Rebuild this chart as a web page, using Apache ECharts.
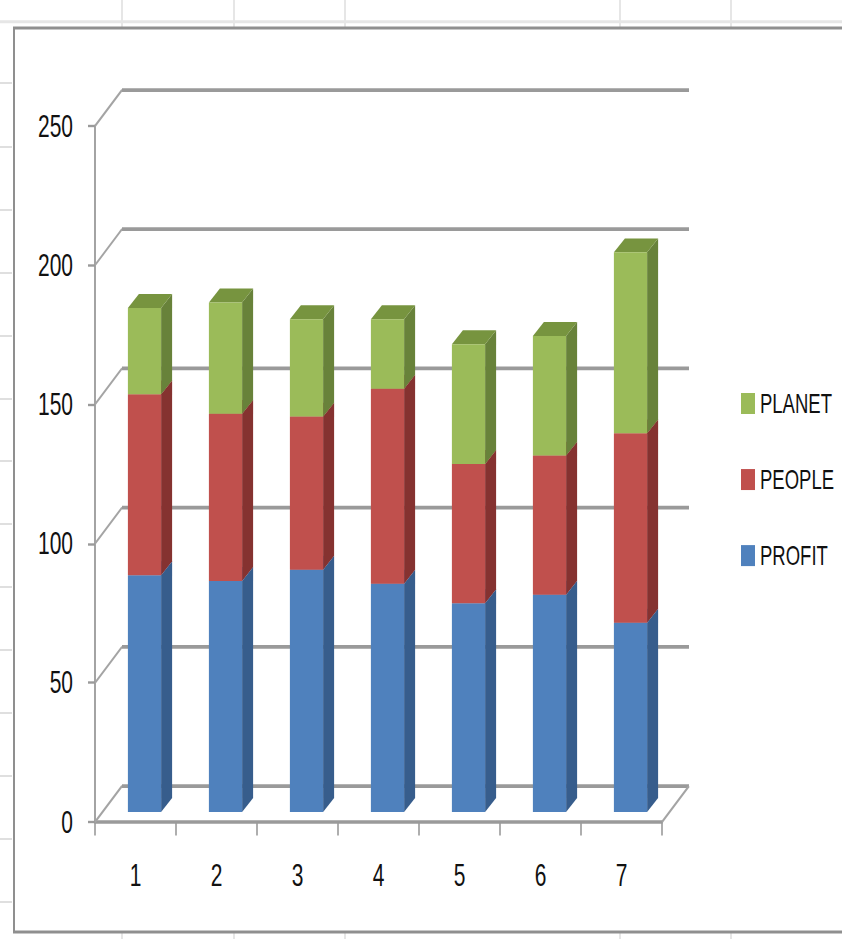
<!DOCTYPE html>
<html>
<head>
<meta charset="utf-8">
<script src="https://cdn.jsdelivr.net/npm/echarts@6/dist/echarts.min.js"></script>
<style>
  html, body { margin: 0; padding: 0; background: #fff; overflow: hidden; }
  #wrap { width: 842px; height: 939px; overflow: hidden; }
  /* chart is laid out at 2/3 height and stretched vertically */
  #chart { width: 842px; height: 626px; transform: scaleY(1.5); transform-origin: 0 0; }
</style>
</head>
<body>
<div id="wrap"><div id="chart"></div></div>
<script>
// ---- data ----
const categories = ['1', '2', '3', '4', '5', '6', '7'];
const profit = [85, 83, 87, 82, 75, 78, 68];
const people = [65, 60, 55, 70, 50, 50, 68];
const planet = [31, 40, 35, 25, 43, 43, 65];
const yTicks = [0, 50, 100, 150, 200, 250];

// ---- pseudo-3D geometry (pixels, before vertical stretch) ----
const BACK_DX = 27, BACK_DY = -24;    // back wall offset from the front plane
const BAR_DX = 9, BAR_DY = -6.7;      // bar front faces sit slightly behind the front plane
const DEPTH_DX = 11, DEPTH_DY = -9.3; // bar thickness (side / top faces)
const BAR_RATIO = 0.41;

const FACES = {
  PROFIT: { front: '#4F81BD', side: '#375D8C', top: '#6A96CC' },
  PEOPLE: { front: '#C0504D', side: '#853230', top: '#A84643' },
  PLANET: { front: '#9BBB59', side: '#68823A', top: '#77943F' }
};

// stacked segments: [category, bottom, top]
const profitRows = profit.map((v, i) => [i, 0, v]);
const peopleRows = people.map((v, i) => [i, profit[i], profit[i] + v]);
const planetRows = planet.map((v, i) => [i, profit[i] + people[i], profit[i] + people[i] + v]);

function barRenderer(faces) {
  return function (params, api) {
    const cat = api.value(0), lo = api.value(1), hi = api.value(2);
    const band = api.size([1, 0])[0];
    const pLo = api.coord([cat, lo]);
    const pHi = api.coord([cat, hi]);
    const w = band * BAR_RATIO;
    const x0 = pLo[0] + BAR_DX - w / 2, x1 = x0 + w;
    const yb = pLo[1] + BAR_DY, yt = pHi[1] + BAR_DY;
    return {
      type: 'group',
      children: [
        { type: 'polygon', shape: { points: [[x1, yb], [x1 + DEPTH_DX, yb + DEPTH_DY], [x1 + DEPTH_DX, yt + DEPTH_DY], [x1, yt]] },
          style: { fill: faces.side } },
        { type: 'polygon', shape: { points: [[x0, yt], [x1, yt], [x1 + DEPTH_DX, yt + DEPTH_DY], [x0 + DEPTH_DX, yt + DEPTH_DY]] },
          style: { fill: faces.top } },
        { type: 'rect', shape: { x: x0, y: yt, width: w, height: yb - yt },
          style: { fill: faces.front } }
      ]
    };
  };
}

function wallRenderer(params, api) {
  const cs = params.coordSys;
  const left = cs.x, right = cs.x + cs.width;
  const y = api.coord([0, api.value(1)])[1];
  const lineStyle = { stroke: '#9a9a9a', lineWidth: 2.5, fill: null };
  const diagStyle = { stroke: '#a4a4a4', lineWidth: 1.6, fill: null };
  const children = [
    { type: 'line', shape: { x1: left, y1: y, x2: left + BACK_DX, y2: y + BACK_DY }, style: diagStyle },
    { type: 'line', shape: { x1: left + BACK_DX, y1: y + BACK_DY, x2: right + BACK_DX, y2: y + BACK_DY }, style: lineStyle }
  ];
  if (api.value(1) === 0) {
    children.push({ type: 'line', shape: { x1: right, y1: y, x2: right + BACK_DX, y2: y + BACK_DY }, style: diagStyle });
  }
  return { type: 'group', children };
}

// light sheet-cell lines around the chart frame
const sheetGraphics = [];
[122, 234, 345, 620, 731].forEach(x => {
  sheetGraphics.push({ type: 'line', shape: { x1: x, y1: 0, x2: x, y2: 18 }, style: { stroke: '#dedede', lineWidth: 1.5 }, silent: true });
  sheetGraphics.push({ type: 'line', shape: { x1: x, y1: 622, x2: x, y2: 626 }, style: { stroke: '#dedede', lineWidth: 1.5 }, silent: true });
});
[83, 147, 210, 273, 336, 399, 461, 524, 587, 650, 713, 776, 839, 902].forEach(yy => {
  const y = yy / 1.5;
  sheetGraphics.push({ type: 'line', shape: { x1: 0, y1: y, x2: 12, y2: y }, style: { stroke: '#dcdcdc', lineWidth: 1.2 }, silent: true });
});
sheetGraphics.push({ type: 'line', shape: { x1: 0, y1: 14.5, x2: 842, y2: 14.5 }, style: { stroke: '#e6e6e6', lineWidth: 2 }, silent: true });
// chart area border
sheetGraphics.push({ type: 'polyline', shape: { points: [[842, 18.7], [14, 18.7], [14, 621.3], [842, 621.3]] },
  style: { stroke: '#8f8f8f', lineWidth: 2, fill: null }, silent: true });

const chart = echarts.init(document.getElementById('chart'), null, { renderer: 'svg' });
chart.setOption({
  animation: false,
  backgroundColor: '#ffffff',
  graphic: sheetGraphics,
  grid: { left: 95, right: 180, top: 84, bottom: 78, containLabel: false },
  legend: {
    orient: 'vertical',
    left: 736,
    top: 254,
    itemWidth: 14,
    itemHeight: 14,
    itemGap: 30.7,
    icon: 'rect',
    data: ['PLANET', 'PEOPLE', 'PROFIT'],
    textStyle: { fontFamily: '"Liberation Sans", sans-serif', fontSize: 18.5, color: '#111', lineHeight: 20 }
  },
  xAxis: {
    type: 'category',
    data: categories,
    boundaryGap: true,
    axisLine: { show: true, lineStyle: { color: '#9a9a9a', width: 2.2 } },
    axisTick: { show: true, length: 9, interval: 0, lineStyle: { color: '#9a9a9a', width: 1.6 } },
    axisLabel: { margin: 25, fontFamily: '"Liberation Sans", sans-serif', fontSize: 21, color: '#111' },
    splitLine: { show: false }
  },
  yAxis: {
    type: 'value',
    min: 0,
    max: 250,
    interval: 50,
    axisLine: { show: true, lineStyle: { color: '#9a9a9a', width: 1.8 } },
    axisTick: { show: true, length: 7, lineStyle: { color: '#9a9a9a', width: 1.6 } },
    axisLabel: { margin: 22, fontFamily: '"Liberation Sans", sans-serif', fontSize: 21, color: '#111' },
    splitLine: { show: false }
  },
  series: [
    {
      name: 'wall',
      type: 'custom',
      silent: true,
      z: 1,
      renderItem: wallRenderer,
      encode: { x: 0, y: 1 },
      data: yTicks.map(v => [0, v])
    },
    {
      name: 'PROFIT', type: 'custom', z: 3,
      itemStyle: { color: FACES.PROFIT.front },
      renderItem: barRenderer(FACES.PROFIT),
      encode: { x: 0, y: [1, 2] },
      data: profitRows
    },
    {
      name: 'PEOPLE', type: 'custom', z: 3,
      itemStyle: { color: FACES.PEOPLE.front },
      renderItem: barRenderer(FACES.PEOPLE),
      encode: { x: 0, y: [1, 2] },
      data: peopleRows
    },
    {
      name: 'PLANET', type: 'custom', z: 3,
      itemStyle: { color: FACES.PLANET.front },
      renderItem: barRenderer(FACES.PLANET),
      encode: { x: 0, y: [1, 2] },
      data: planetRows
    }
  ]
});
</script>
</body>
</html>
